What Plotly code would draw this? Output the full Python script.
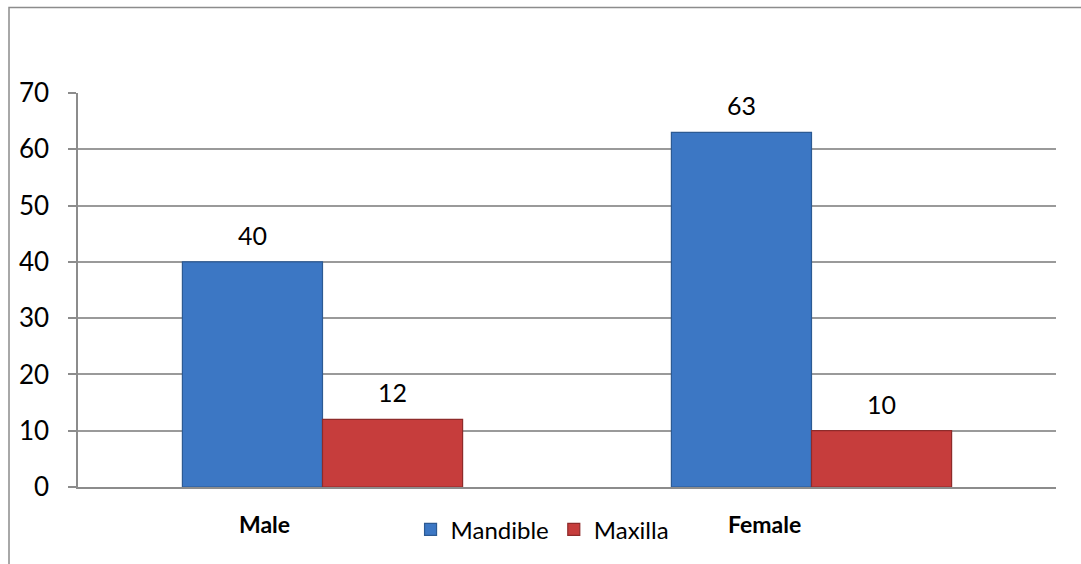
import plotly.graph_objects as go

categories = ["Male", "Female"]
mandible = [40, 63]
maxilla = [12, 10]
series_names = ["Mandible", "Maxilla"]
y_ticks = [0, 10, 20, 30, 40, 50, 60, 70]

FONT = "Lato"
W, H = 1081, 564
L, R, T, B = 78, 25, 93, 75

fig = go.Figure()
fig.add_trace(go.Bar(x=categories, y=mandible, name=series_names[0],
                     marker=dict(color="#3C77C4", line=dict(color="#2C5A93", width=1.2))))
fig.add_trace(go.Bar(x=categories, y=maxilla, name=series_names[1],
                     marker=dict(color="#C63D3C", line=dict(color="#8E2B2A", width=1.2))))

# value labels
for vals, sh in ((mandible, -70), (maxilla, 70)):
    for c, v in zip(categories, vals):
        fig.add_annotation(x=c, y=v, text=str(v), showarrow=False, xshift=sh, yshift=27,
                           font=dict(family=FONT, size=25, color="#000"))

# category labels (shifted like the original)
for c, sh in zip(categories, (-58, -47)):
    fig.add_annotation(x=c, y=0, text=f"<b>{c}</b>", showarrow=False, xshift=sh, yshift=-37,
                       font=dict(family=FONT, size=23, color="#000"))

# outer chart border
pw, ph = W - L - R, H - T - B
fig.add_shape(type="rect", xref="paper", yref="paper",
              x0=(9 - L) / pw, x1=(W + 20 - L) / pw,
              y0=(H - B - (H + 20)) / ph, y1=(H - B - 7) / ph,
              line=dict(color="#8C8C8C", width=1.5), fillcolor="rgba(0,0,0,0)", layer="below")

fig.update_layout(
    width=W, height=H,
    margin=dict(l=L, r=R, t=T, b=B),
    paper_bgcolor="white", plot_bgcolor="white",
    barmode="group", bargap=0.427, bargroupgap=0,
    font=dict(family=FONT, size=24, color="#000"),
    showlegend=True,
    legend=dict(orientation="h", x=0.475, xanchor="center", y=(H - B - 532) / ph, yanchor="middle",
                font=dict(family=FONT, size=24, color="#000"), bgcolor="rgba(0,0,0,0)",
                itemwidth=30, tracegroupgap=0),
    xaxis=dict(showticklabels=False, showline=True, linecolor="#8C8C8C", linewidth=1.5,
               ticks="", showgrid=False, fixedrange=True),
    yaxis=dict(range=[0, 70], tickvals=y_ticks, showgrid=True, gridcolor="#9A9A9A", gridwidth=1.5,
               showline=True, linecolor="#8C8C8C", linewidth=1.5,
               ticks="outside", ticklen=8, tickcolor="#8C8C8C", tickwidth=1.5,
               ticklabelstandoff=14, zeroline=False,
               tickfont=dict(family=FONT, size=26, color="#000")),
)

fig.write_html("out.html")
